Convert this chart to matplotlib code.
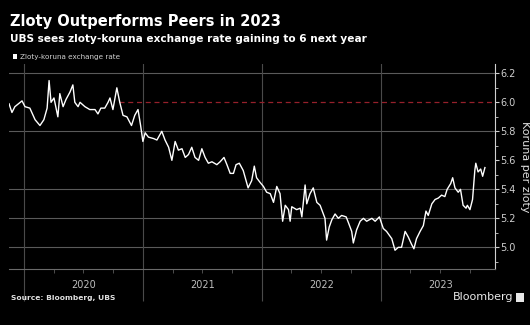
import numpy as np
import pandas as pd
import matplotlib
matplotlib.use('Agg')
import matplotlib.pyplot as plt
import matplotlib.dates as mdates
from matplotlib.patches import Rectangle

# zloty-koruna exchange rate (koruna per zloty)
dates = [
    '2019-11-16', '2019-11-25', '2019-12-04', '2019-12-26', '2020-01-04', '2020-01-19',
    '2020-02-04', '2020-02-19', '2020-03-02', '2020-03-12', '2020-03-18', '2020-03-24',
    '2020-04-02', '2020-04-14', '2020-04-20', '2020-04-30', '2020-05-09', '2020-05-21',
    '2020-05-30', '2020-06-05', '2020-06-15', '2020-06-21', '2020-07-06', '2020-07-21',
    '2020-08-06', '2020-08-15', '2020-08-24', '2020-09-05', '2020-09-15', '2020-09-21',
    '2020-09-30', '2020-10-12', '2020-10-21', '2020-10-31', '2020-11-12', '2020-11-26',
    '2020-12-06', '2020-12-16', '2020-12-24', '2020-12-31', '2021-01-07', '2021-01-17',
    '2021-02-02', '2021-02-12', '2021-02-27', '2021-03-09', '2021-03-20', '2021-03-30',
    '2021-04-09', '2021-04-19', '2021-04-30', '2021-05-10', '2021-05-20', '2021-05-30',
    '2021-06-09', '2021-06-20', '2021-06-30', '2021-07-10', '2021-07-20', '2021-07-31',
    '2021-08-15', '2021-08-25', '2021-09-06', '2021-09-15', '2021-09-25', '2021-10-05',
    '2021-10-13', '2021-10-23', '2021-11-04', '2021-11-19', '2021-11-30', '2021-12-08',
    '2021-12-15', '2021-12-25', '2022-01-05', '2022-01-15', '2022-01-26', '2022-02-05',
    '2022-02-15', '2022-02-25', '2022-03-05', '2022-03-13', '2022-03-23', '2022-03-28',
    '2022-04-02', '2022-04-17', '2022-04-28', '2022-05-03', '2022-05-13', '2022-05-18',
    '2022-05-28', '2022-06-07', '2022-06-18', '2022-06-28', '2022-07-03', '2022-07-13',
    '2022-07-18', '2022-07-26', '2022-08-03', '2022-08-13', '2022-08-23', '2022-09-02',
    '2022-09-16', '2022-09-23', '2022-10-03', '2022-10-08', '2022-10-18', '2022-10-29',
    '2022-11-08', '2022-11-18', '2022-12-04', '2022-12-14', '2022-12-27', '2023-01-08',
    '2023-01-18', '2023-02-03', '2023-02-13', '2023-02-23', '2023-03-05', '2023-03-16',
    '2023-03-26', '2023-04-05', '2023-04-12', '2023-04-20', '2023-05-01', '2023-05-11',
    '2023-05-19', '2023-05-26', '2023-06-06', '2023-06-16', '2023-06-26', '2023-07-06',
    '2023-07-16', '2023-07-23', '2023-08-03', '2023-08-09', '2023-08-16', '2023-08-26',
    '2023-09-02', '2023-09-10', '2023-09-19', '2023-09-23', '2023-10-01', '2023-10-09',
    '2023-10-16', '2023-10-19', '2023-10-26', '2023-11-03', '2023-11-09', '2023-11-16',
]
rate = [
    5.99, 5.93, 5.97, 6.01, 5.97, 5.96,
    5.88, 5.84, 5.88, 5.96, 6.15, 6.00,
    6.03, 5.90, 6.06, 5.97, 6.02, 6.07,
    6.12, 6.00, 5.97, 6.00, 5.97, 5.95,
    5.95, 5.92, 5.96, 5.96, 6.00, 6.03,
    5.95, 6.10, 6.00, 5.91, 5.90, 5.84,
    5.91, 5.95, 5.84, 5.73, 5.79, 5.76,
    5.75, 5.74, 5.80, 5.74, 5.69, 5.60,
    5.73, 5.67, 5.68, 5.62, 5.64, 5.69,
    5.62, 5.60, 5.68, 5.62, 5.58, 5.59,
    5.57, 5.59, 5.62, 5.57, 5.51, 5.51,
    5.57, 5.58, 5.53, 5.41, 5.46, 5.56,
    5.48, 5.45, 5.42, 5.38, 5.37, 5.31,
    5.42, 5.37, 5.18, 5.29, 5.26, 5.18,
    5.28, 5.26, 5.27, 5.21, 5.43, 5.30,
    5.37, 5.41, 5.31, 5.29, 5.26, 5.20,
    5.05, 5.14, 5.19, 5.23, 5.20, 5.22,
    5.21, 5.17, 5.11, 5.03, 5.12, 5.18,
    5.20, 5.18, 5.20, 5.18, 5.21, 5.13,
    5.11, 5.06, 4.98, 5.00, 5.00, 5.11,
    5.07, 5.02, 4.99, 5.06, 5.11, 5.15,
    5.25, 5.22, 5.30, 5.33, 5.34, 5.36,
    5.35, 5.40, 5.44, 5.48, 5.41, 5.38,
    5.40, 5.29, 5.27, 5.29, 5.26, 5.33,
    5.53, 5.58, 5.52, 5.54, 5.49, 5.55,
]

# UBS target
target = 6.0
target_start = '2020-10-20'

years = [2020, 2021, 2022, 2023]
grid_levels = [5.0, 5.2, 5.4, 5.8, 6.2]

x = pd.to_datetime(dates)
x_min = pd.Timestamp('2019-11-16')
x_max = pd.Timestamp('2023-12-17')

plt.rcParams['font.family'] = ['DejaVu Sans']

fig = plt.figure(figsize=(5.3, 3.25), dpi=100, facecolor='black')
ax = fig.add_axes([0.017, 0.172, 0.917, 0.631], facecolor='black')

# gridlines
for g in grid_levels:
    ax.axhline(g, color='#5a5a5a', lw=0.8, zorder=1)
for yr in years:
    ax.axvline(pd.Timestamp(f'{yr}-01-01'), color='#4a4a4a', lw=0.8, zorder=1)

ax.plot([pd.Timestamp(target_start), x_max], [target, target], color='#96202b',
        lw=0.9, ls=(0, (4, 3)), zorder=2)
ax.plot(x, rate, color='white', lw=1.0, zorder=3)

ax.set_xlim(x_min, x_max)
ax.set_ylim(4.85, 6.264)

# right-hand axis
ax.yaxis.tick_right()
ax.yaxis.set_label_position('right')
ax.set_yticks([5.0, 5.2, 5.4, 5.6, 5.8, 6.0, 6.2])
ax.set_yticklabels(['5.0', '5.2', '5.4', '5.6', '5.8', '6.0', '6.2'])
ax.set_yticks(np.arange(4.9, 6.25, 0.2), minor=True)
ax.tick_params(axis='y', which='major', colors='#cfcfcf', labelsize=7, length=3, width=0.8, pad=1)
ax.tick_params(axis='y', which='minor', colors='#cfcfcf', length=2, width=0.6)
ax.set_ylabel('Koruna per zloty', color='#e0e0e0', fontsize=8, rotation=-90, labelpad=10)

# bottom axis: years with quarter ticks
ax.set_xticks([pd.Timestamp(f'{yr}-01-01') for yr in years])
ax.set_xticklabels([])
ax.xaxis.set_minor_locator(mdates.MonthLocator(bymonth=[4, 7, 10]))
ax.tick_params(axis='x', which='major', colors='#4a4a4a', length=23, width=0.8)
ax.tick_params(axis='x', which='minor', colors='#5a5a5a', length=3, width=0.6)
trans = ax.get_xaxis_transform()
for yr in years:
    ax.text(pd.Timestamp(f'{yr}-07-02'), -0.078, str(yr), transform=trans,
            ha='center', va='center', color='#bdbdbd', fontsize=7)

for side in ['top', 'left']:
    ax.spines[side].set_visible(False)
ax.spines['right'].set_color('#d0d0d0')
ax.spines['right'].set_linewidth(0.8)
ax.spines['bottom'].set_color('#6a6a6a')
ax.spines['bottom'].set_linewidth(0.8)

# titles and legend
fig.text(0.019, 0.935, 'Zloty Outperforms Peers in 2023', color='white',
         fontsize=10.5, fontweight='bold', va='center')
fig.text(0.019, 0.88, 'UBS sees zloty-koruna exchange rate gaining to 6 next year',
         color='white', fontsize=7.6, fontweight='bold', va='center')
fig.patches.append(Rectangle((0.024, 0.818), 0.009, 0.016, transform=fig.transFigure,
                             facecolor='white', edgecolor='none'))
fig.text(0.038, 0.826, 'Zloty-koruna exchange rate', color='#d0d0d0',
         fontsize=5.2, va='center')

# footer
fig.text(0.021, 0.083, 'Source: Bloomberg, UBS', color='#e0e0e0', fontsize=5.4,
         fontweight='bold', va='center')
fig.text(0.968, 0.086, 'Bloomberg', color='#e8e8e8', fontsize=8, ha='right', va='center')
fig.patches.append(Rectangle((0.973, 0.072), 0.016, 0.028, transform=fig.transFigure,
                             facecolor='#e8e8e8', edgecolor='none'))

fig.savefig('out.png', dpi=100, facecolor='black')
